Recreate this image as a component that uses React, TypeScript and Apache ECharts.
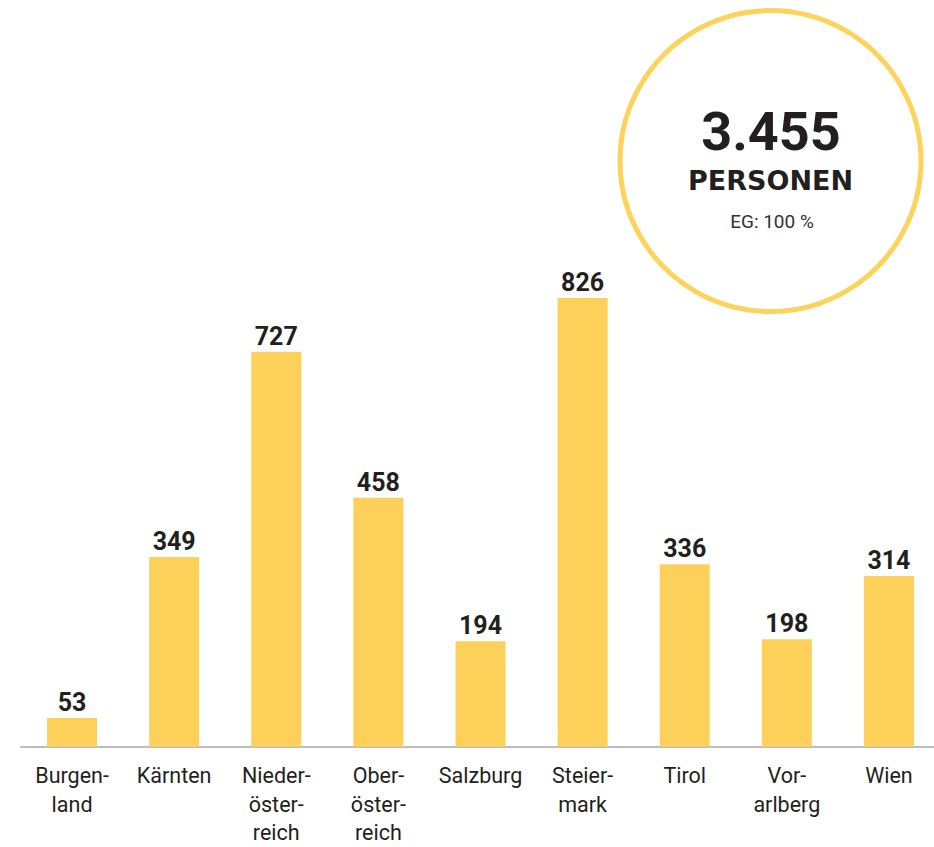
import React, { useEffect, useRef } from "react";
import * as echarts from "echarts";

const categories = [
  "Burgen-\nland",
  "Kärnten",
  "Nieder-\nöster-\nreich",
  "Ober-\nöster-\nreich",
  "Salzburg",
  "Steier-\nmark",
  "Tirol",
  "Vor-\narlberg",
  "Wien",
];
const values = [53, 349, 727, 458, 194, 826, 336, 198, 314];
const totalText = "3.455";
const unitText = "PERSONEN";
const noteText = "EG: 100 %";

export default function App() {
  const ref = useRef<HTMLDivElement>(null);
  useEffect(() => {
    if (!ref.current) return;
    const chart = echarts.init(ref.current, undefined, { renderer: "svg" });
    chart.setOption({
      animation: false,
      grid: {
        left: 21,
        top: 203.4,
        width: 919,
        height: 543.3,
        containLabel: false,
        outerBoundsMode: "none",
      },
      xAxis: {
        type: "category",
        data: categories,
        axisLine: { show: true, lineStyle: { color: "#bcbebe", width: 2 } },
        axisTick: { show: false },
        axisLabel: {
          interval: 0,
          margin: 15,
          fontFamily: "Roboto",
          fontSize: 21.5,
          lineHeight: 28.3,
          color: "#231f20",
          verticalAlign: "top",
        },
      },
      yAxis: {
        type: "value",
        min: 0,
        max: 1000,
        show: false,
        splitLine: { show: false },
      },
      series: [
        {
          type: "bar",
          data: values,
          barWidth: 50,
          itemStyle: { color: "#fdd05a" },
          label: {
            show: true,
            position: "top",
            distance: 3,
            fontFamily: "Roboto",
            fontWeight: "bold",
            fontSize: 25,
            color: "#231f20",
          },
        },
      ],
      graphic: [
        {
          type: "circle",
          shape: { cx: 770.5, cy: 161, r: 150.5 },
          style: { fill: "#ffffff", stroke: "#fdd35c", lineWidth: 5 },
        },
        {
          type: "text",
          x: 771,
          y: 131,
          style: {
            text: totalText,
            fontFamily: "Roboto",
            fontWeight: "bold",
            fontSize: 54,
            fill: "#231f20",
            align: "center",
            verticalAlign: "middle",
          },
        },
        {
          type: "text",
          x: 770.5,
          y: 180.5,
          style: {
            text: unitText,
            fontFamily: "DejaVu Sans",
            fontWeight: "bold",
            fontSize: 27,
            fill: "#231f20",
            align: "center",
            verticalAlign: "middle",
          },
        },
        {
          type: "text",
          x: 772,
          y: 221.5,
          style: {
            text: noteText,
            fontFamily: "Roboto",
            fontSize: 19,
            fill: "#333333",
            align: "center",
            verticalAlign: "middle",
          },
        },
      ],
    });
    return () => chart.dispose();
  }, []);
  return (
    <div
      ref={ref}
      style={{ position: "absolute", left: 0, top: 0, width: 934, height: 847, background: "#ffffff" }}
    />
  );
}
